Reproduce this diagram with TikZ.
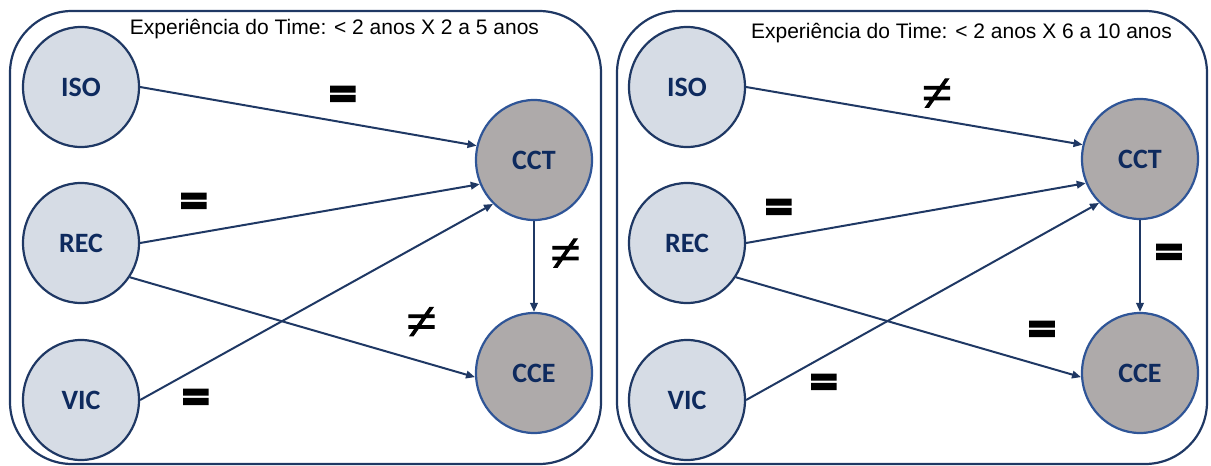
\documentclass[tikz,border=0pt]{standalone}
\usepackage{fontspec}
\setmainfont{Liberation Sans}
\newfontfamily\nodefont{Carlito}
\newfontfamily\eqfont{Carlito}[BoldFeatures={FakeBold=3.5}]
\newfontfamily\nefont{Liberation Serif}[FakeBold=2]
\usetikzlibrary{shapes.geometric,arrows.meta}
\definecolor{navy}{HTML}{1F3864}
\definecolor{deepnavy}{HTML}{0E2A5E}
\definecolor{midblue}{HTML}{2F5597}
\definecolor{lightfill}{HTML}{D6DCE5}
\definecolor{grayfill}{HTML}{AEAAAA}
\begin{document}
\begin{tikzpicture}[x=1pt,y=-1pt,
  panel/.style={draw=navy,line width=2.2pt,rounded corners=62pt},
  srcnode/.style={ellipse,draw=navy,line width=2.2pt,fill=lightfill,minimum width=116pt,minimum height=120pt,inner sep=0pt,font=\nodefont\bfseries\fontsize{28}{28}\selectfont,text=deepnavy},
  dstnode/.style={srcnode,draw=midblue,fill=grayfill},
  conn/.style={draw=navy,line width=2pt,-{Triangle[length=9pt,width=7.5pt]}},
  eqlbl/.style={font=\eqfont\bfseries\fontsize{56}{56}\selectfont,inner sep=0pt},
  nelbl/.style={font=\nefont\fontsize{54}{54}\selectfont,inner sep=0pt},
  headtxt/.style={font=\fontsize{21}{21}\selectfont,inner sep=0pt}]
\useasboundingbox (0,0) rectangle (1211,466);
% ---------- left panel ----------
\draw[panel] (10,11) rectangle (601,464);
\node[headtxt] (hdra) at (334.5,29) {Experiência do Time: < 2 anos X 2 a 5 anos};
\node[srcnode] (ISOa) at (81,87) {ISO};
\node[srcnode] (RECa) at (81,243) {REC};
\node[srcnode] (VICa) at (81,400) {VIC};
\node[dstnode] (CCTa) at (534,160) {CCT};
\node[dstnode] (CCEa) at (534,373) {CCE};
\draw[conn] (ISOa.east) -- (CCTa.166);
\draw[conn] (RECa.east) -- (CCTa.204);
\draw[conn] (VICa.east) -- (CCTa.227);
\draw[conn] (RECa.-35) -- (CCEa.184);
\draw[conn] (CCTa.south) -- (CCEa.north);
\node[eqlbl] (la1) at (343,99) {=};
\node[eqlbl] (la2) at (194,206) {=};
\node[eqlbl] (la3) at (196,402) {=};
\node[nelbl] (la4) at (565.5,255) {≠};
\node[nelbl] (la5) at (421.5,323.5) {≠};
% ---------- right panel ----------
\draw[panel] (617,11) rectangle (1207,464);
\node[headtxt] (hdrb) at (961.5,33) {Experiência do Time: < 2 anos X 6 a 10 anos};
\node[srcnode] (ISOb) at (687,87) {ISO};
\node[srcnode] (RECb) at (687,243) {REC};
\node[srcnode] (VICb) at (687,400) {VIC};
\node[dstnode] (CCTb) at (1140,159) {CCT};
\node[dstnode] (CCEb) at (1140,373) {CCE};
\draw[conn] (ISOb.east) -- (CCTb.166);
\draw[conn] (RECb.east) -- (CCTb.204);
\draw[conn] (VICb.east) -- (CCTb.227);
\draw[conn] (RECb.-35) -- (CCEb.184);
\draw[conn] (CCTb.south) -- (CCEb.north);
\node[nelbl] (lb1) at (937,95) {≠};
\node[eqlbl] (lb2) at (779,212) {=};
\node[eqlbl] (lb3) at (1169,257) {=};
\node[eqlbl] (lb4) at (1042,334) {=};
\node[eqlbl] (lb5) at (824,387) {=};
\end{tikzpicture}
\end{document}
